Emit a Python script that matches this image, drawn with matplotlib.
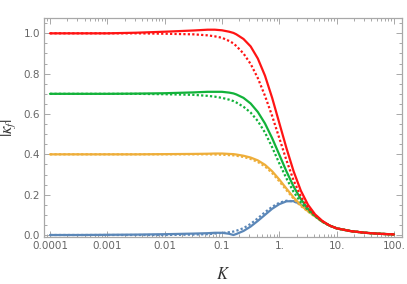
import numpy as np
import matplotlib
matplotlib.use("Agg")
import matplotlib.pyplot as plt
from matplotlib.ticker import FixedLocator, NullFormatter

plt.rcParams["mathtext.fontset"] = "stix"

# log10(K) sample positions
logK = [-4, -3.5, -3, -2.5, -2, -1.5, -1.25, -1.125, -1, -0.875, -0.8, -0.75, -0.625,
        -0.5, -0.375, -0.25, -0.125, 0, 0.125, 0.25, 0.375, 0.5, 0.625, 0.75,
        0.875, 1, 1.25, 1.5, 1.75, 2]

red_solid = [1.0, 1.0, 1.0, 1.003, 1.008, 1.014, 1.018, 1.018, 1.015, 1.008, 1.002, 0.995, 0.972,
             0.935, 0.875, 0.79, 0.68, 0.555, 0.43, 0.315, 0.22, 0.15, 0.102, 0.07,
             0.047, 0.033, 0.019, 0.011, 0.006, 0.003]
red_dot = [1.0, 1.0, 1.0, 1.0, 0.998, 0.995, 0.99, 0.985, 0.978, 0.962, 0.95, 0.937, 0.9,
           0.848, 0.778, 0.69, 0.59, 0.48, 0.37, 0.27, 0.192, 0.135, 0.097, 0.068,
           0.047, 0.033, 0.019, 0.011, 0.006, 0.003]
green_solid = [0.70, 0.70, 0.70, 0.701, 0.703, 0.707, 0.71, 0.71, 0.71, 0.706, 0.702, 0.697, 0.68,
               0.652, 0.61, 0.553, 0.48, 0.398, 0.315, 0.24, 0.178, 0.13, 0.095, 0.067,
               0.047, 0.033, 0.019, 0.011, 0.006, 0.003]
green_dot = [0.70, 0.70, 0.70, 0.70, 0.698, 0.695, 0.69, 0.686, 0.68, 0.671, 0.664, 0.657, 0.636,
             0.607, 0.565, 0.508, 0.435, 0.355, 0.28, 0.213, 0.162, 0.123, 0.093, 0.066,
             0.047, 0.033, 0.019, 0.011, 0.006, 0.003]
orange_solid = [0.40, 0.40, 0.40, 0.40, 0.401, 0.402, 0.403, 0.404, 0.404, 0.402, 0.401, 0.399, 0.393,
                0.384, 0.37, 0.348, 0.316, 0.275, 0.23, 0.186, 0.148, 0.118, 0.092, 0.066,
                0.047, 0.033, 0.019, 0.011, 0.006, 0.003]
orange_dot = [0.40, 0.40, 0.40, 0.40, 0.40, 0.40, 0.40, 0.399, 0.398, 0.396, 0.395, 0.393, 0.387,
              0.377, 0.362, 0.34, 0.307, 0.266, 0.222, 0.18, 0.144, 0.116, 0.091, 0.066,
              0.047, 0.033, 0.019, 0.011, 0.006, 0.003]
blue_solid = [0.0, 0.0, 0.001, 0.002, 0.004, 0.007, 0.009, 0.011, 0.011, 0.006, 0.0, 0.005, 0.02,
              0.042, 0.07, 0.1, 0.13, 0.153, 0.167, 0.168, 0.152, 0.122, 0.094, 0.067,
              0.047, 0.033, 0.019, 0.011, 0.006, 0.003]
blue_dot = [0.0, 0.0, 0.0, 0.0, 0.0, 0.002, 0.004, 0.007, 0.01, 0.014, 0.017, 0.021, 0.034,
            0.055, 0.083, 0.113, 0.14, 0.16, 0.17, 0.167, 0.15, 0.121, 0.094, 0.067,
            0.047, 0.033, 0.019, 0.011, 0.006, 0.003]

xticks = [1e-4, 1e-3, 1e-2, 1e-1, 1, 10, 100]
xtick_labels = ["0.0001", "0.001", "0.01", "0.1", "1.", "10.", "100."]
yticks = [0.0, 0.2, 0.4, 0.6, 0.8, 1.0]
ytick_labels = ["0.0", "0.2", "0.4", "0.6", "0.8", "1.0"]

K = 10.0 ** np.array(logK)

fig = plt.figure(figsize=(4.07, 2.84), dpi=100)
ax = fig.add_axes([44/407, 1-237/284, (402-44)/407, (237-18)/284])

RED = "#ff1414"
GREEN = "#12b23a"
ORANGE = "#eeae3a"
BLUE = "#5b87b8"
lw = 1.6
dot = (0, (1.0, 1.0))

series = [(blue_solid, blue_dot, BLUE), (orange_solid, orange_dot, ORANGE),
          (green_solid, green_dot, GREEN), (red_solid, red_dot, RED)]
for s, d, c in series:
    ax.plot(K, d, color=c, lw=lw, linestyle=dot)
    ax.plot(K, s, color=c, lw=lw, solid_capstyle="round", solid_joinstyle="round")

ax.set_xscale("log")
ax.set_xlim(10**-4.105, 10**2.14)
ax.set_ylim(-0.0099, 1.076)

frame_c = "#a8a8a8"
for sp in ax.spines.values():
    sp.set_color(frame_c)
    sp.set_linewidth(0.9)

ax.xaxis.set_major_locator(FixedLocator(xticks))
ax.set_xticklabels(xtick_labels)
minors = [m * 10.0**e for e in range(-5, 3) for m in range(2, 10)]
ax.xaxis.set_minor_locator(FixedLocator(minors))
ax.xaxis.set_minor_formatter(NullFormatter())
ax.set_yticks(yticks)
ax.set_yticklabels(ytick_labels)
ax.yaxis.set_minor_locator(FixedLocator(list(np.arange(0.0, 1.08, 0.05))))

ax.tick_params(which="both", direction="in", top=True, right=True, color=frame_c,
               labelcolor="#666666", labelsize=7.5, width=0.7)
ax.tick_params(which="major", length=4.5, pad=3)
ax.tick_params(which="minor", length=2.5)

ax.set_xlabel(r"$K$", fontsize=12, color="#333333")
ax.set_ylabel(r"$|\kappa_f|$", fontsize=12, color="#333333")
ax.xaxis.set_label_coords(0.5, -0.13)
ax.yaxis.set_label_coords(-0.072, 0.5)

fig.savefig("out.png", dpi=100)
